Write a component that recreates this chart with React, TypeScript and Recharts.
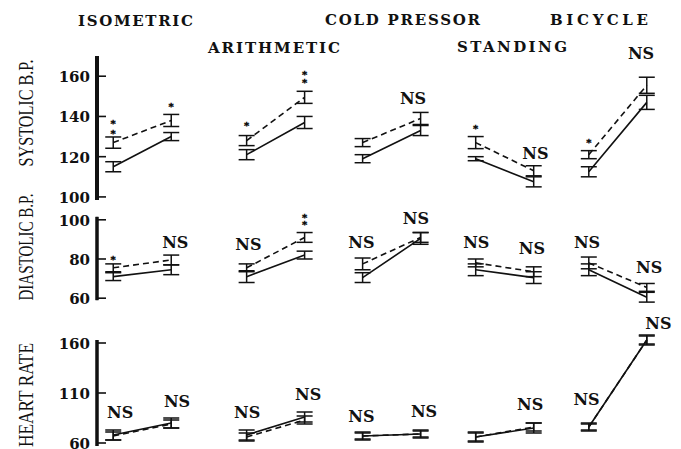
import { ComposedChart, Line, XAxis, YAxis, ErrorBar, Scatter, ReferenceLine } from 'recharts'

const tests = ['ISOMETRIC', 'ARITHMETIC', 'COLD PRESSOR', 'STANDING', 'BICYCLE']
// x position of the rest point of each test; the test point sits one unit to the right
const groupX = [0, 2.3, 4.3, 6.25, 8.2]

// [rest, test] per test
const sysSolid = [[115, 130], [121, 137], [119, 133], [119, 107.5], [112.5, 147]]
const sysSolidErr = [[2.5, 2], [2.5, 3], [2, 2.5], [1, 2.5], [2.5, 3.5]]
const sysDashed = [[127, 138], [128, 149.5], [127, 139], [127, 113], [121, 155.5]]
const sysDashedErr = [[2.8, 3], [2.5, 3], [2, 3], [3, 2.5], [2, 4]]

const diaSolid = [[71, 74.5], [71, 82], [70.5, 90.5], [74.5, 70.5], [74.5, 60.5]]
const diaSolidErr = [[2, 2.5], [3, 2], [2.5, 3], [3, 3], [3, 2.5]]
const diaDashed = [[75.5, 79.5], [75.5, 91], [77.5, 91], [78, 73.5], [78, 65.5]]
const diaDashedErr = [[2, 2.5], [2, 2.5], [3, 2.5], [2, 2.5], [3, 2]]

const hrSolid = [[68, 80], [68, 86], [67, 69], [66, 75], [76, 163]]
const hrSolidErr = [[5, 5], [5, 5], [4, 4], [5, 5], [4, 5]]
const hrDashed = [[67, 79], [66, 83], [67, 69], [66, 76], [76, 163]]
const hrDashedErr = [[4, 4], [4, 4], [3, 3], [4, 4], [3, 4]]

// significance marks: group, offset from rest point, value, text
const sysNotes = [
  { g: 0, at: 0, v: 137, t: '*' },
  { g: 0, at: 0, v: 132.5, t: '*' },
  { g: 0, at: 1, v: 145.5, t: '*' },
  { g: 1, at: 0, v: 136, t: '*' },
  { g: 1, at: 1, v: 161.5, t: '*' },
  { g: 1, at: 1, v: 157.5, t: '*' },
  { g: 2, at: 0.87, v: 149, t: 'NS' },
  { g: 3, at: 0, v: 135, t: '*' },
  { g: 3, at: 1.03, v: 122, t: 'NS' },
  { g: 4, at: 0, v: 128, t: '*' },
  { g: 4, at: 0.9, v: 171.5, t: 'NS' },
]
const diaNotes = [
  { g: 0, at: 0, v: 80.5, t: '*' },
  { g: 0, at: 1.07, v: 88.7, t: 'NS' },
  { g: 1, at: 0.03, v: 87.7, t: 'NS' },
  { g: 1, at: 1, v: 101.8, t: '*' },
  { g: 1, at: 1, v: 98.2, t: '*' },
  { g: 2, at: -0.02, v: 88.5, t: 'NS' },
  { g: 2, at: 0.92, v: 100.9, t: 'NS' },
  { g: 3, at: 0.01, v: 88.7, t: 'NS' },
  { g: 3, at: 0.97, v: 85.6, t: 'NS' },
  { g: 4, at: -0.03, v: 88.5, t: 'NS' },
  { g: 4, at: 1.04, v: 75.9, t: 'NS' },
]
const hrNotes = [
  { g: 0, at: 0.12, v: 91, t: 'NS' },
  { g: 0, at: 1.1, v: 102, t: 'NS' },
  { g: 1, at: 0.01, v: 91, t: 'NS' },
  { g: 1, at: 1.06, v: 109, t: 'NS' },
  { g: 2, at: -0.02, v: 87, t: 'NS' },
  { g: 2, at: 1.06, v: 92, t: 'NS' },
  { g: 3, at: 0.94, v: 99, t: 'NS' },
  { g: 4, at: -0.04, v: 104, t: 'NS' },
  { g: 4, at: 1.2, v: 180, t: 'NS' },
]

const sysTicks = [100, 120, 140, 160]
const diaTicks = [60, 80, 100]
const hrTicks = [60, 110, 160]

const INK = '#111'
const SERIF = '"DejaVu Serif", "Liberation Serif", serif'
const X_DOMAIN: [number, number] = [-0.28, 9.79]

function buildRows(solid: number[][], solidErr: number[][], dashed: number[][], dashedErr: number[][]) {
  const rows: any[] = []
  groupX.forEach((gx, g) => {
    ;[0, 1].forEach((k) =>
      rows.push({
        x: gx + k,
        solid: solid[g][k],
        solidErr: solidErr[g][k],
        dashed: dashed[g][k],
        dashedErr: dashedErr[g][k],
      }),
    )
    rows.push({ x: gx + 1.5, solid: null, dashed: null })
  })
  return rows
}

function buildNotes(notes: { g: number; at: number; v: number; t: string }[]) {
  return notes.map((n) => ({ x: groupX[n.g] + n.at, y: n.v, t: n.t }))
}

function AxisTick(props: any) {
  const { x, y, payload } = props
  return (
    <g>
      <line x1={x + 8} x2={x + 17} y1={y} y2={y} stroke={INK} strokeWidth={1.6} />
      <text x={x + 1} y={y} dy={6} textAnchor="end" fontFamily={SERIF} fontWeight="bold" fontSize={15} fill={INK}>
        {payload.value}
      </text>
    </g>
  )
}

function NoteMark(props: any) {
  const { cx, cy, payload } = props
  if (payload.t === '*') {
    return (
      <text x={cx} y={cy} dy={5} textAnchor="middle" fontFamily={SERIF} fontWeight="bold" fontSize={10} fill="#000" stroke="#000" strokeWidth={0.4}>
        *
      </text>
    )
  }
  return (
    <text x={cx} y={cy} dy={6} textAnchor="middle" fontFamily={SERIF} fontWeight="bold" fontSize={16} fill={INK}>
      {payload.t}
    </text>
  )
}

interface PanelProps {
  top: number
  height: number
  domain: [number, number]
  axisSpan: [number, number]
  axisWidth: number
  ticks: number[]
  rows: any[]
  notes: any[]
}

function Panel({ top, height, domain, axisSpan, axisWidth, ticks, rows, notes }: PanelProps) {
  const box = { position: 'absolute' as const, left: 0, top, width: 681, height }
  // the axis layer's plot area covers only the span of the printed axis
  const perUnit = height / (domain[1] - domain[0])
  const axisMargin = {
    top: (domain[1] - axisSpan[1]) * perUnit,
    right: 0,
    bottom: (axisSpan[0] - domain[0]) * perUnit,
    left: 0,
  }
  return (
    <>
      <div style={box}>
        <ComposedChart width={681} height={height} data={rows} margin={{ top: 0, right: 0, bottom: 0, left: 0 }}>
          <XAxis type="number" dataKey="x" domain={X_DOMAIN} allowDataOverflow hide />
          <YAxis type="number" domain={domain} allowDataOverflow width={97} axisLine={false} tickLine={false} tick={false} />
          <ReferenceLine
            ifOverflow="visible"
            segment={[
              { x: X_DOMAIN[0], y: axisSpan[0] },
              { x: X_DOMAIN[0], y: axisSpan[1] },
            ]}
            stroke={INK}
            strokeWidth={axisWidth}
          />
          <Line
            dataKey="dashed"
            type="linear"
            stroke={INK}
            strokeWidth={1.6}
            strokeDasharray="6 4"
            dot={false}
            activeDot={false}
            isAnimationActive={false}
          >
            <ErrorBar dataKey="dashedErr" width={8} stroke={INK} strokeWidth={1.5} strokeDasharray="0" />
          </Line>
          <Line
            dataKey="solid"
            type="linear"
            stroke={INK}
            strokeWidth={1.6}
            dot={false}
            activeDot={false}
            isAnimationActive={false}
          >
            <ErrorBar dataKey="solidErr" width={8} stroke={INK} strokeWidth={1.5} />
          </Line>
          <Scatter data={notes} dataKey="y" shape={<NoteMark />} isAnimationActive={false} />
        </ComposedChart>
      </div>
      <div style={box}>
        <ComposedChart width={681} height={height} data={rows} margin={axisMargin}>
          <XAxis type="number" dataKey="x" domain={X_DOMAIN} allowDataOverflow hide />
          <YAxis
            type="number"
            domain={axisSpan}
            allowDataOverflow
            width={97}
            ticks={ticks}
            interval={0}
            axisLine={{ stroke: INK, strokeWidth: axisWidth }}
            tickLine={false}
            tick={<AxisTick />}
          />
          <Line dataKey="solid" stroke="none" dot={false} activeDot={false} isAnimationActive={false} />
        </ComposedChart>
      </div>
    </>
  )
}

// title text: [x start, baseline, width]
const titleBoxes = [
  [78, 26, 115],
  [208, 53, 132],
  [325, 25, 155],
  [457, 52, 110],
  [550, 25, 98],
]

const sideLabels = [
  { text: 'SYSTOLIC B.P.', cy: 113, len: 107 },
  { text: 'DIASTOLIC B.P.', cy: 247, len: 107 },
  { text: 'HEART RATE', cy: 395, len: 104 },
]

export default function App() {
  return (
    <div style={{ position: 'absolute', left: 0, top: 0, width: 681, height: 449 }}>
      <svg width={681} height={449} style={{ position: 'absolute', left: 0, top: 0 }}>
        {tests.map((t, i) => (
          <text
            key={t}
            x={titleBoxes[i][0]}
            y={titleBoxes[i][1]}
            textLength={titleBoxes[i][2]}
            lengthAdjust="spacing"
            fontFamily={SERIF}
            fontWeight="bold"
            fontSize={15}
            fill={INK}
          >
            {t}
          </text>
        ))}
        {sideLabels.map((s) => (
          <text
            key={s.text}
            transform={`translate(33, ${s.cy}) rotate(-90)`}
            textAnchor="middle"
            textLength={s.len}
            lengthAdjust="spacingAndGlyphs"
            fontFamily='"Liberation Serif", serif'
            fontSize={21}
            fill={INK}
          >
            {s.text}
          </text>
        ))}
      </svg>
      <Panel
        top={40}
        height={170}
        domain={[93.5, 178]}
        axisSpan={[98.5, 170]}
        axisWidth={4}
        ticks={sysTicks}
        rows={buildRows(sysSolid, sysSolidErr, sysDashed, sysDashedErr)}
        notes={buildNotes(sysNotes)}
      />
      <Panel
        top={210}
        height={97}
        domain={[55.5, 105]}
        axisSpan={[59, 101.5]}
        axisWidth={3}
        ticks={diaTicks}
        rows={buildRows(diaSolid, diaSolidErr, diaDashed, diaDashedErr)}
        notes={buildNotes(diaNotes)}
      />
      <Panel
        top={315}
        height={134}
        domain={[54, 188]}
        axisSpan={[57, 163]}
        axisWidth={3}
        ticks={hrTicks}
        rows={buildRows(hrSolid, hrSolidErr, hrDashed, hrDashedErr)}
        notes={buildNotes(hrNotes)}
      />
    </div>
  )
}
